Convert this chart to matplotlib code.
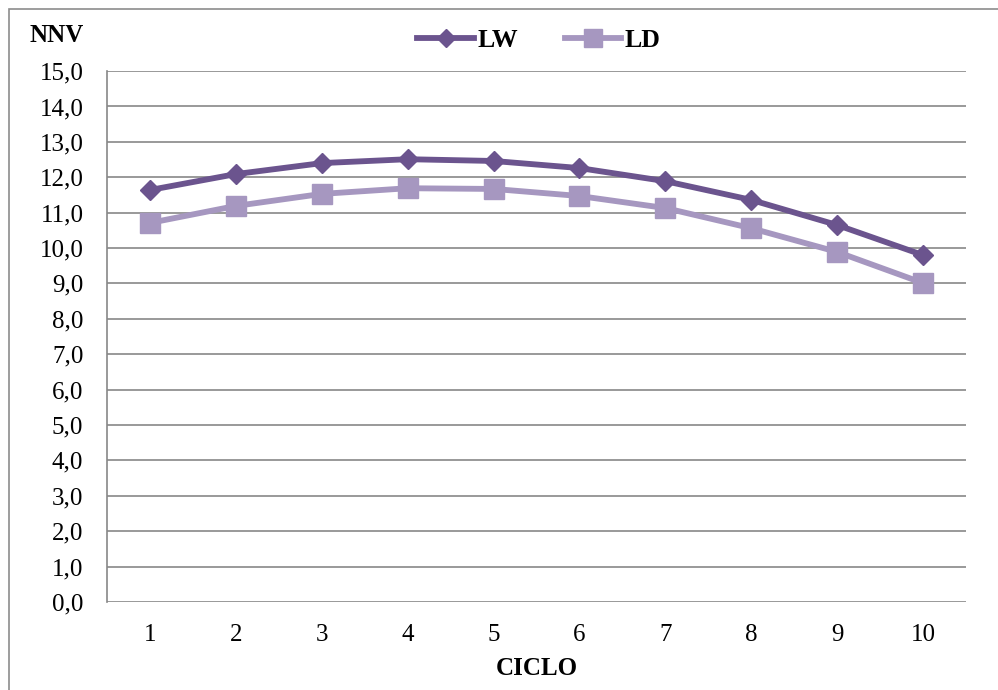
import matplotlib.pyplot as plt
from matplotlib.patches import Rectangle

plt.rcParams['font.family'] = ['Liberation Serif', 'DejaVu Serif']

ciclo = [1, 2, 3, 4, 5, 6, 7, 8, 9, 10]
lw = [11.64, 12.09, 12.40, 12.51, 12.46, 12.26, 11.89, 11.36, 10.65, 9.80]
ld = [10.71, 11.19, 11.53, 11.69, 11.67, 11.47, 11.13, 10.56, 9.89, 9.01]

c_lw = '#6b548e'
c_ld = '#a697c0'
grid_c = '#878787'

fig = plt.figure(figsize=(9.98, 6.9), dpi=100)
fig.patches.append(Rectangle((0.0095, -0.05), 1.1, 1.0365, transform=fig.transFigure,
                             fill=False, edgecolor='#8c8c8c', linewidth=1.2))
ax = fig.add_axes([0.1072, 0.1275, 0.8608, 0.7695])

ax.plot(ciclo, lw, color=c_lw, lw=4.2, marker='D', ms=10.5, label='LW', zorder=3)
ax.plot(ciclo, ld, color=c_ld, lw=4.2, marker='s', ms=15, label='LD', zorder=3)

ax.set_xlim(0.5, 10.5)
ax.set_ylim(0, 15)
ax.set_yticks(range(0, 16))
ax.set_yticklabels([f'{v},0' for v in range(0, 16)])
ax.set_xticks(ciclo)
ax.grid(axis='y', color=grid_c, lw=1.2)
ax.set_axisbelow(True)
for s in ['top', 'right', 'bottom']:
    ax.spines[s].set_visible(False)
ax.spines['left'].set_color(grid_c)
ax.spines['left'].set_linewidth(1.2)
ax.tick_params(axis='both', length=0, labelsize=18)
ax.tick_params(axis='y', pad=17)
ax.tick_params(axis='x', pad=16)

ax.set_xlabel('CICLO', fontsize=18, fontweight='bold', labelpad=8)
fig.text(0.057, 0.948, 'NNV', fontsize=18, fontweight='bold', ha='center', va='center')

leg = ax.legend(loc='center', bbox_to_anchor=(0.503, 1.057), ncol=2, frameon=False,
                prop={'size': 18.5, 'weight': 'bold'}, handlelength=2.2,
                handletextpad=0.15, columnspacing=1.8, markerscale=0.85)

fig.savefig('out.png', dpi=100)
